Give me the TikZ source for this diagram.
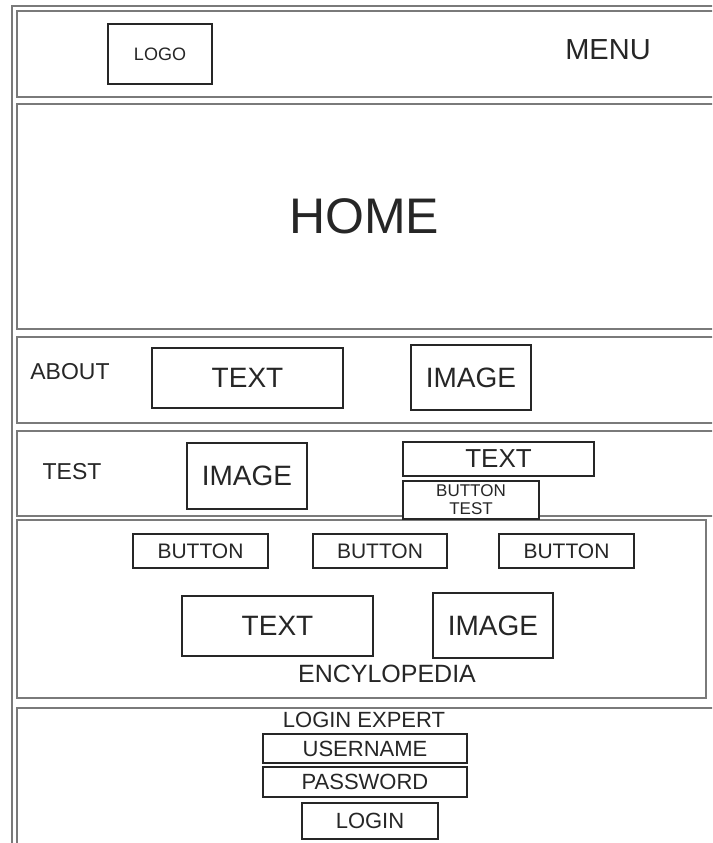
\documentclass[tikz,border=0pt]{standalone}
\usepackage{fontspec}
\setmainfont{Liberation Sans}
\usepackage{tikz}
\definecolor{frameGray}{HTML}{7A7A7A}
\definecolor{boxBlack}{HTML}{262626}
\newcommand{\fs}[1]{\fontsize{#1}{#1}\selectfont}
% box given by its corners in pixel coordinates
\newcommand{\wbox}[7][]{%
  \node[wbox, #1, minimum width={(#5-#3)*1pt}, minimum height={(#6-#4)*1pt}]
  (#2) at ({(#3+#5)/2},{(#4+#6)/2}) {#7};%
}
\tikzset{
  section/.style={draw=frameGray, line width=1.8pt},
  wbox/.style={rectangle, draw=boxBlack, line width=1.3pt, fill=white,
    inner sep=0pt, align=center, text=boxBlack},
  lbl/.style={inner sep=0pt, text=boxBlack, align=center}
}

\begin{document}
\begin{tikzpicture}[x=1pt, y=-1pt]
\clip (0,0) rectangle (712,843);
\fill[white] (0,0) rectangle (712,843);

% --- FRAME AND SECTIONS ---
\draw[section] (12,6) rectangle (740,870);
\draw[section] (17,11)  rectangle (730,97);
\draw[section] (17,104) rectangle (730,329);
\draw[section] (17,337) rectangle (730,423);
\draw[section] (17,431) rectangle (730,516);
\draw[section] (17,520) rectangle (706,698);
\draw[section] (17,708) rectangle (730,860);

% --- HEADER ---
\wbox{logo}{108}{24}{212}{84}{\fs{18}LOGO}
\node[lbl, font=\fs{29}] (menu) at (608,50) {MENU};

% --- HOME ---
\node[lbl, font=\fs{50}] (home) at (364,216) {HOME};

% --- ABOUT ---
\node[lbl, font=\fs{23}] (about) at (70,372) {ABOUT};
\wbox{aboutText}{152}{348}{343}{408}{\fs{28}TEXT}
\wbox{aboutImage}{411}{345}{531}{410}{\fs{28}IMAGE}

% --- TEST ---
\node[lbl, font=\fs{23}] (test) at (72,472) {TEST};
\wbox{testImage}{187}{443}{307}{509}{\fs{28}IMAGE}
\wbox{testText}{403}{442}{594}{476}{\fs{26}TEXT}
\wbox[font={\fontsize{17}{18}\selectfont}]{testButton}{403}{481}{539}{519}{BUTTON\\TEST}

% --- ENCYLOPEDIA ---
\foreach \i/\xa/\xb in {1/133/268, 2/313/447, 3/499/634}{
  \wbox{encButton\i}{\xa}{534}{\xb}{568}{\fs{21}BUTTON}
}
\wbox{encText}{182}{596}{373}{656}{\fs{28}TEXT}
\wbox{encImage}{433}{593}{553}{658}{\fs{28}IMAGE}
\node[lbl, font=\fs{25}] (ency) at (387,674) {ENCYLOPEDIA};

% --- LOGIN ---
\node[lbl, font=\fs{22}] (loginTitle) at (364,720) {LOGIN EXPERT};
\wbox{user}{263}{734}{467}{763}{\fs{22}USERNAME}
\wbox{pass}{263}{767}{467}{797}{\fs{22}PASSWORD}
\wbox{login}{302}{803}{438}{839}{\fs{22}LOGIN}

\end{tikzpicture}
\end{document}
